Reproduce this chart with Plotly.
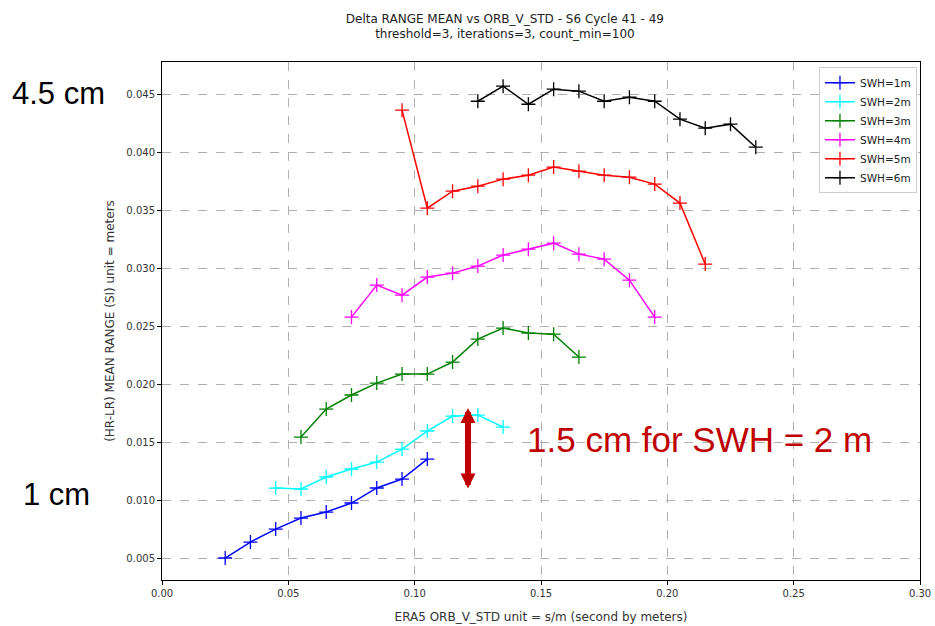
import plotly.graph_objects as go

x_1m = [0.025, 0.035, 0.045, 0.055, 0.065, 0.075, 0.085, 0.095, 0.105]
y_1m = [0.0050, 0.00638, 0.0075, 0.00845, 0.00897, 0.00975, 0.01105, 0.01182, 0.01355]

x_2m = [0.045, 0.055, 0.065, 0.075, 0.085, 0.095, 0.105, 0.115, 0.125, 0.135]
y_2m = [0.01104, 0.01096, 0.0120, 0.01269, 0.01329, 0.01441, 0.01597, 0.01726, 0.01735, 0.01631]

x_3m = [0.055, 0.065, 0.075, 0.085, 0.095, 0.105, 0.115, 0.125, 0.135, 0.145, 0.155, 0.165]
y_3m = [0.01545, 0.01787, 0.01908, 0.02011, 0.02089, 0.02089, 0.02193, 0.02391, 0.02486, 0.02443, 0.02434, 0.02236]

x_4m = [0.075, 0.085, 0.095, 0.105, 0.115, 0.125, 0.135, 0.145, 0.155, 0.165, 0.175, 0.185, 0.195]
y_4m = [0.02581, 0.02858, 0.02771, 0.02927, 0.02961, 0.03022, 0.03117, 0.03168, 0.0322, 0.03125, 0.03082, 0.0290, 0.02581]

x_5m = [0.095, 0.105, 0.115, 0.125, 0.135, 0.145, 0.155, 0.165, 0.175, 0.185, 0.195, 0.205, 0.215]
y_5m = [0.04369, 0.03522, 0.03669, 0.03712, 0.03773, 0.03807, 0.03877, 0.03842, 0.03807, 0.0379, 0.0373, 0.03566, 0.03039]

x_6m = [0.125, 0.135, 0.145, 0.155, 0.165, 0.175, 0.185, 0.195, 0.205, 0.215, 0.225, 0.235]
y_6m = [0.04446, 0.04576, 0.0442, 0.0455, 0.04533, 0.04446, 0.04481, 0.04446, 0.04291, 0.04213, 0.04248, 0.04049]

series = [
    ("SWH=1m", x_1m, y_1m, "#0000ff"),
    ("SWH=2m", x_2m, y_2m, "#00ffff"),
    ("SWH=3m", x_3m, y_3m, "#008000"),
    ("SWH=4m", x_4m, y_4m, "#ff00ff"),
    ("SWH=5m", x_5m, y_5m, "#ff0000"),
    ("SWH=6m", x_6m, y_6m, "#000000"),
]

x_ticks = [0.00, 0.05, 0.10, 0.15, 0.20, 0.25, 0.30]
y_ticks = [0.005, 0.010, 0.015, 0.020, 0.025, 0.030, 0.035, 0.040, 0.045]

fig = go.Figure()
for name, xs, ys, col in series:
    fig.add_trace(go.Scatter(
        x=xs, y=ys, name=name, mode="lines+markers",
        line=dict(color=col, width=1.5),
        marker=dict(symbol="cross-thin", size=10, line=dict(color=col, width=1.3), color=col),
    ))

axis_common = dict(
    showline=True, linecolor="black", linewidth=1, mirror=True,
    ticks="outside", ticklen=4, tickcolor="black",
    showgrid=True, gridcolor="#b0b0b0", griddash="dash", gridwidth=1,
    zeroline=False, automargin=False,
    tickfont=dict(family="DejaVu Sans", size=10, color="#333"),
    title_font=dict(family="DejaVu Sans", size=12, color="#333"),
)

fig.update_xaxes(range=[0.0, 0.30], tickvals=x_ticks, tickformat=".2f",
                 title_text="ERA5 ORB_V_STD unit = s/m (second by meters)",
                 title_standoff=14, **axis_common)
fig.update_yaxes(range=[0.0031, 0.04785], tickvals=y_ticks, tickformat=".3f",
                 title_text="(HR-LR) MEAN RANGE (SI) unit = meters",
                 title_standoff=9, **axis_common)

fig.update_layout(
    width=935, height=626,
    margin=dict(l=162, r=15, t=62, b=46, autoexpand=False),
    paper_bgcolor="white", plot_bgcolor="white",
    title=dict(text="Delta RANGE MEAN vs ORB_V_STD - S6 Cycle 41 - 49<br>threshold=3, iterations=3, count_min=100",
               x=0.54, xanchor="center", y=0.964, yanchor="top",
               font=dict(family="DejaVu Sans", size=12, color="#222")),
    legend=dict(x=0.996, y=0.99, xanchor="right", yanchor="top",
                bgcolor="white", bordercolor="#cccccc", borderwidth=1,
                font=dict(family="DejaVu Sans", size=10.5, color="#222"),
                tracegroupgap=0, itemwidth=30),
    showlegend=True,
)

fig.add_annotation(text="4.5 cm", xref="paper", yref="y", x=-0.1372, y=0.0451,
                   xanchor="center", yanchor="middle",
                   showarrow=False, font=dict(family="Liberation Sans", size=31, color="black"))
fig.add_annotation(text="1 cm", xref="paper", yref="y", x=-0.1398, y=0.01045,
                   xanchor="center", yanchor="middle",
                   showarrow=False, font=dict(family="Liberation Sans", size=31, color="black"))
fig.add_annotation(text="1.5 cm for SWH = 2 m", xref="x", yref="y", x=0.2127, y=0.0152,
                   xanchor="center", yanchor="middle",
                   showarrow=False, font=dict(family="Liberation Sans", size=35, color="#c00000"))
fig.add_annotation(text="", xref="x", yref="y", axref="x", ayref="y",
                   x=0.1211, y=0.01795, ax=0.1211, ay=0.01087,
                   showarrow=True, arrowside="end+start", arrowhead=2,
                   arrowsize=0.5, arrowwidth=6, arrowcolor="#c00000", standoff=0, startstandoff=0)

fig.write_html("out.html")
